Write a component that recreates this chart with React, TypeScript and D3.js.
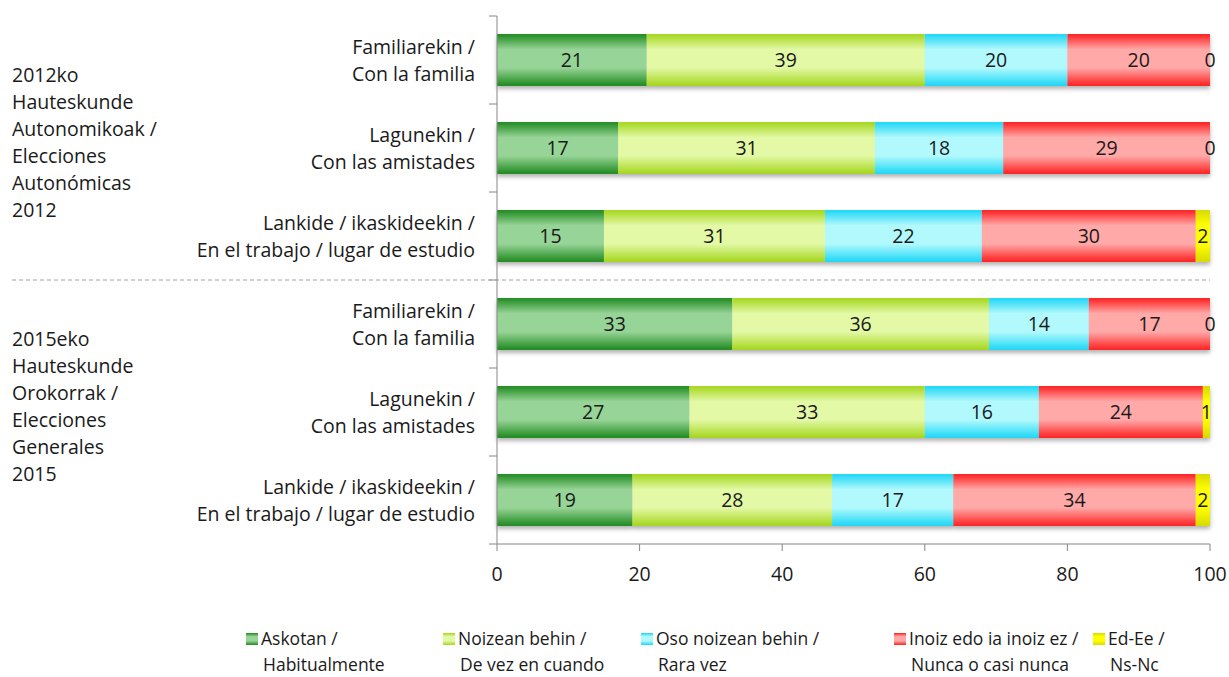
import React, { useEffect, useRef } from "react";
import * as d3 from "d3";

// categories (top to bottom)
const rows = [
  ["Familiarekin /", "Con la familia"],
  ["Lagunekin /", "Con las amistades"],
  ["Lankide / ikaskideekin /", "En el trabajo / lugar de estudio"],
  ["Familiarekin /", "Con la familia"],
  ["Lagunekin /", "Con las amistades"],
  ["Lankide / ikaskideekin /", "En el trabajo / lugar de estudio"],
];

const groups = [
  ["2012ko", "Hauteskunde", "Autonomikoak /", "Elecciones", "Autonómicas", "2012"],
  ["2015eko", "Hauteskunde", "Orokorrak /", "Elecciones", "Generales", "2015"],
];

const seriesNames = [
  ["Askotan /", "Habitualmente"],
  ["Noizean behin /", "De vez en cuando"],
  ["Oso noizean behin /", "Rara vez"],
  ["Inoiz edo ia inoiz ez /", "Nunca o casi nunca"],
  ["Ed-Ee /", "Ns-Nc"],
];

// segment lengths as drawn
const askotan = [21, 17, 15, 33, 27, 19];
const noizean = [39, 36, 31, 36, 33, 28];
const oso = [20, 18, 22, 14, 16, 17];
const inoiz = [20, 29, 30, 17, 23, 34];
const ns = [0, 0, 2, 0, 1, 2];

// printed data labels
const askotanLbl = [21, 17, 15, 33, 27, 19];
const noizeanLbl = [39, 31, 31, 36, 33, 28];
const osoLbl = [20, 18, 22, 14, 16, 17];
const inoizLbl = [20, 29, 30, 17, 24, 34];
const nsLbl = [0, 0, 2, 0, 1, 2];

const xTicks = [0, 20, 40, 60, 80, 100];

const colors = [
  { edge: "#1f8a1f", mid: "#97d497" },
  { edge: "#a4d61c", mid: "#e3f9a6" },
  { edge: "#1cd6f6", mid: "#b2f9fd" },
  { edge: "#ff1f1f", mid: "#ffa9a9" },
  { edge: "#d9d900", mid: "#ffff00" },
];

const FONT = "'Open Sans', Lato, sans-serif";
const FS = 19.5;

export default function App() {
  const ref = useRef<SVGSVGElement>(null);

  useEffect(() => {
    document.body.style.margin = "0";
    const svg = d3.select(ref.current);
    svg.selectAll("*").remove();

    const left = 497, right = 1210, top = 16, bottom = 544;
    const x = d3.scaleLinear().domain([0, 100]).range([left, right]);
    const y = d3.scaleBand<number>().domain(d3.range(rows.length)).range([top, bottom]).paddingInner(0.41).paddingOuter(0.205);
    const band = (bottom - top) / rows.length;

    const defs = svg.append("defs");
    colors.forEach((c, i) => {
      const g = defs.append("linearGradient").attr("id", "grad" + i)
        .attr("x1", 0).attr("y1", 0).attr("x2", 0).attr("y2", 1);
      g.append("stop").attr("offset", "0%").attr("stop-color", c.edge);
      g.append("stop").attr("offset", "30%").attr("stop-color", c.mid);
      g.append("stop").attr("offset", "65%").attr("stop-color", c.mid);
      g.append("stop").attr("offset", "100%").attr("stop-color", c.edge);
    });
    const f = defs.append("filter").attr("id", "shadow").attr("x", "-5%").attr("y", "-20%").attr("width", "110%").attr("height", "160%");
    f.append("feDropShadow").attr("dx", 0).attr("dy", 3).attr("stdDeviation", 2)
      .attr("flood-color", "#000").attr("flood-opacity", 0.3);

    svg.append("rect").attr("width", 1229).attr("height", 677).attr("fill", "#fff");

    const table = rows.map((_, i) => ({
      i, s0: askotan[i], s1: noizean[i], s2: oso[i], s3: inoiz[i], s4: ns[i],
    }));
    const labels = [askotanLbl, noizeanLbl, osoLbl, inoizLbl, nsLbl];
    const stacked = d3.stack<any>().keys(["s0", "s1", "s2", "s3", "s4"])(table);

    // bars with shadow
    const barG = svg.append("g");
    rows.forEach((_, i) => {
      const rowG = barG.append("g").attr("filter", "url(#shadow)");
      stacked.forEach((ser, k) => {
        const d = ser[i];
        if (d[1] - d[0] <= 0) return;
        rowG.append("rect")
          .attr("x", x(d[0])).attr("y", y(i)!)
          .attr("width", x(d[1]) - x(d[0])).attr("height", y.bandwidth())
          .attr("fill", `url(#grad${k})`);
      });
    });

    const txt = (sel: any, fs = FS) => sel.attr("font-family", FONT).attr("font-size", fs).attr("fill", "#1a1a1a");

    // data labels
    stacked.forEach((ser, k) => {
      ser.forEach((d, i) => {
        svg.append("text")
          .attr("x", (x(d[0]) + x(d[1])) / 2)
          .attr("y", y(i)! + y.bandwidth() / 2)
          .attr("dy", "0.36em")
          .attr("text-anchor", "middle")
          .call(txt)
          .text(labels[k][i]);
      });
    });

    const axisColor = "#868686";
    svg.append("line").attr("x1", left).attr("x2", left).attr("y1", top).attr("y2", bottom)
      .attr("stroke", axisColor);
    d3.range(rows.length + 1).forEach((j) => {
      const yy = top + j * band;
      svg.append("line").attr("x1", left - 8).attr("x2", left).attr("y1", yy).attr("y2", yy)
        .attr("stroke", axisColor);
    });
    svg.append("line").attr("x1", left).attr("x2", right).attr("y1", bottom).attr("y2", bottom)
      .attr("stroke", axisColor);
    xTicks.forEach((t) => {
      svg.append("line").attr("x1", x(t)).attr("x2", x(t)).attr("y1", bottom).attr("y2", bottom + 7)
        .attr("stroke", axisColor);
      svg.append("text").attr("x", x(t)).attr("y", 574).attr("dy", "0.36em").attr("text-anchor", "middle")
        .call(txt).text(t);
    });

    // category labels
    rows.forEach((r, i) => {
      const cy = y(i)! + y.bandwidth() / 2;
      r.forEach((line, l) => {
        svg.append("text").attr("x", 475).attr("y", cy + (l - 0.5) * 27).attr("dy", "0.36em")
          .attr("text-anchor", "end").call(txt).text(line);
      });
    });

    // group labels
    groups.forEach((g, gi) => {
      const cy = top + (gi * 3 + 1.5) * band - 6;
      g.forEach((line, l) => {
        svg.append("text").attr("x", 12).attr("y", cy + (l - (g.length - 1) / 2) * 27).attr("dy", "0.36em")
          .call(txt).text(line);
      });
    });

    // separator
    const sepY = top + 3 * band;
    svg.append("line").attr("x1", 12).attr("x2", right).attr("y1", sepY).attr("y2", sepY)
      .attr("stroke", "#a0a0a0").attr("stroke-dasharray", "4,3");

    // legend
    const legendX = [246, 443, 641, 894, 1093];
    seriesNames.forEach((n, k) => {
      svg.append("rect").attr("x", legendX[k]).attr("y", 633).attr("width", 12).attr("height", 12)
        .attr("fill", `url(#grad${k})`);
      n.forEach((line, l) => {
        svg.append("text").attr("x", legendX[k] + 15 + (l === 1 ? 2 : 0)).attr("y", 639 + l * 26).attr("dy", "0.36em")
          .call(txt, 17.5).text(line);
      });
    });
  }, []);

  return <svg ref={ref} width={1229} height={677} style={{ display: "block" }} />;
}
